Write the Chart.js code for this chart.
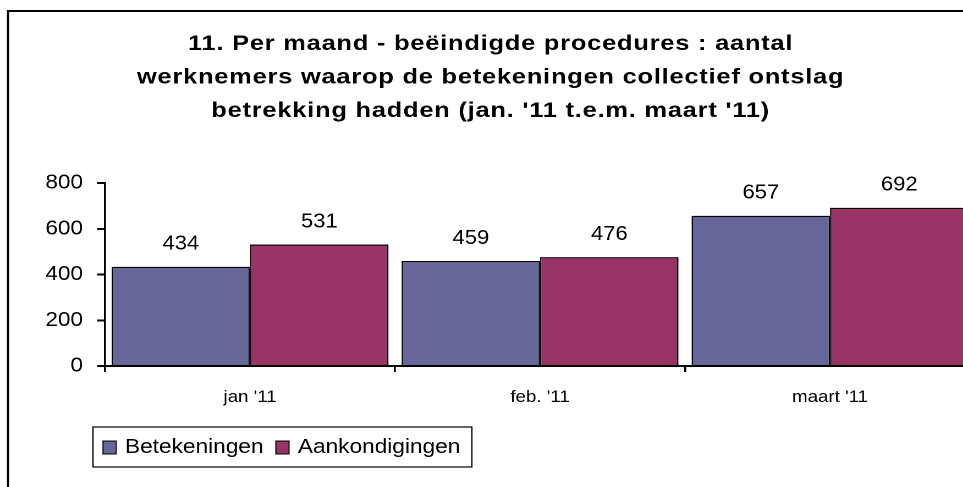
<!DOCTYPE html>
<html><head><meta charset="utf-8">
<script src="https://cdn.jsdelivr.net/npm/chart.js@4"></script>
<style>
html,body{margin:0;padding:0;background:#fff;overflow:hidden}
#clip{position:relative;width:963px;height:487px;overflow:hidden;background:#fff}
#wrap{position:absolute;left:0;top:0;width:900px;height:487px;transform:scaleX(1.1);transform-origin:0 0}
</style></head><body>
<div id="clip"><div id="wrap"><canvas id="c" width="900" height="487"></canvas></div></div>
<script>
const categories = ["jan '11", "feb. '11", "maart '11"];
const betekeningen = [434, 459, 657];
const aankondigingen = [531, 476, 692];
const yTicks = [0, 200, 400, 600, 800];
const seriesNames = ["Betekeningen", "Aankondigingen"];
const seriesColors = ["#666699", "#993366"];
const titleLines = [
  "11. Per maand - beëindigde procedures : aantal",
  "werknemers waarop de betekeningen collectief ontslag",
  "betrekking hadden (jan. '11 t.e.m. maart '11)"
];

const FONT = "'Liberation Sans', Arial, sans-serif";

const framePlugin = {
  id: 'frame',
  beforeDraw(chart) {
    const ctx = chart.ctx;
    ctx.save();
    ctx.strokeStyle = '#000';
    ctx.lineWidth = 2;
    ctx.strokeRect(7.3, 11, chart.width + 20, chart.height + 20);
    ctx.restore();
  }
};

const titlePlugin = {
  id: 'multiTitle',
  afterDraw(chart) {
    const ctx = chart.ctx;
    ctx.save();
    ctx.fillStyle = '#000';
    ctx.font = "bold 21px " + FONT;
    if ('letterSpacing' in ctx) ctx.letterSpacing = '0.65px';
    ctx.textAlign = 'center';
    ctx.textBaseline = 'alphabetic';
    ctx.translate(446, 0);
    ctx.scale(1.1, 1);
    const ys = [50, 83.5, 117];
    titleLines.forEach((t, i) => ctx.fillText(t, 0, ys[i]));
    ctx.restore();
  }
};

const valueLabels = {
  id: 'valueLabels',
  afterDatasetsDraw(chart) {
    const ctx = chart.ctx;
    ctx.save();
    ctx.fillStyle = '#000';
    ctx.font = "20px " + FONT;
    ctx.textAlign = 'center';
    ctx.textBaseline = 'alphabetic';
    chart.data.datasets.forEach((ds, di) => {
      const meta = chart.getDatasetMeta(di);
      meta.data.forEach((el, i) => {
        ctx.fillText(String(ds.data[i]), el.x, el.y - 17);
      });
    });
    ctx.restore();
  }
};

const legendBox = {
  id: 'legendBox',
  afterDraw(chart) {
    const ctx = chart.ctx;
    ctx.save();
    ctx.font = "20.6px " + FONT;
    ctx.textBaseline = 'alphabetic';
    ctx.textAlign = 'left';
    const left = 84.5, top = 427, bottom = 467;
    let x = 93.6;
    const items = [];
    chart.data.datasets.forEach((ds, i) => {
      const w = ctx.measureText(ds.label).width;
      items.push({x, color: ds.backgroundColor, label: ds.label});
      x += 20 + w + 11.2;
    });
    const right = x - 11.2 + 10.5;
    ctx.strokeStyle = '#000';
    ctx.lineWidth = 1.2;
    ctx.strokeRect(left, top, right - left, bottom - top);
    items.forEach(it => {
      ctx.fillStyle = it.color;
      ctx.fillRect(it.x, 441, 12, 13);
      ctx.strokeStyle = '#000';
      ctx.lineWidth = 1;
      ctx.strokeRect(it.x, 441, 12, 13);
      ctx.fillStyle = '#000';
      ctx.fillText(it.label, it.x + 20, 453);
    });
    ctx.restore();
  }
};

new Chart(document.getElementById('c'), {
  type: 'bar',
  data: {
    labels: categories,
    datasets: [
      {label: seriesNames[0], data: betekeningen, backgroundColor: seriesColors[0], borderColor: '#000', borderWidth: 1.3},
      {label: seriesNames[1], data: aankondigingen, backgroundColor: seriesColors[1], borderColor: '#000', borderWidth: 1.3}
    ]
  },
  options: {
    responsive: false,
    animation: false,
    devicePixelRatio: 2,
    layout: {padding: {top: 183, bottom: 81, left: 0, right: 13.6}},
    datasets: {bar: {categoryPercentage: 0.955, barPercentage: 1}},
    plugins: {legend: {display: false}, title: {display: false}, tooltip: {enabled: false}},
    scales: {
      x: {
        grid: {display: true, offset: true, drawOnChartArea: false, drawTicks: true, tickLength: 6, color: '#000', lineWidth: 1.8},
        border: {display: true, color: '#000', width: 2},
        ticks: {color: '#000', font: {family: FONT, size: 17}, padding: 15, maxRotation: 0},
        afterFit(s) { s.height = 40; }
      },
      y: {
        min: 0, max: 800,
        afterBuildTicks(s) { s.ticks = yTicks.map(v => ({value: v})); },
        grid: {display: true, drawOnChartArea: false, drawTicks: true, tickLength: 7.3, color: '#000', lineWidth: 2},
        border: {display: true, color: '#000', width: 1.8},
        ticks: {color: '#000', font: {family: FONT, size: 20.5}, padding: 12.8},
        afterFit(s) { s.width = 95.5; }
      }
    }
  },
  plugins: [framePlugin, valueLabels, titlePlugin, legendBox]
});
</script>
</body></html>
